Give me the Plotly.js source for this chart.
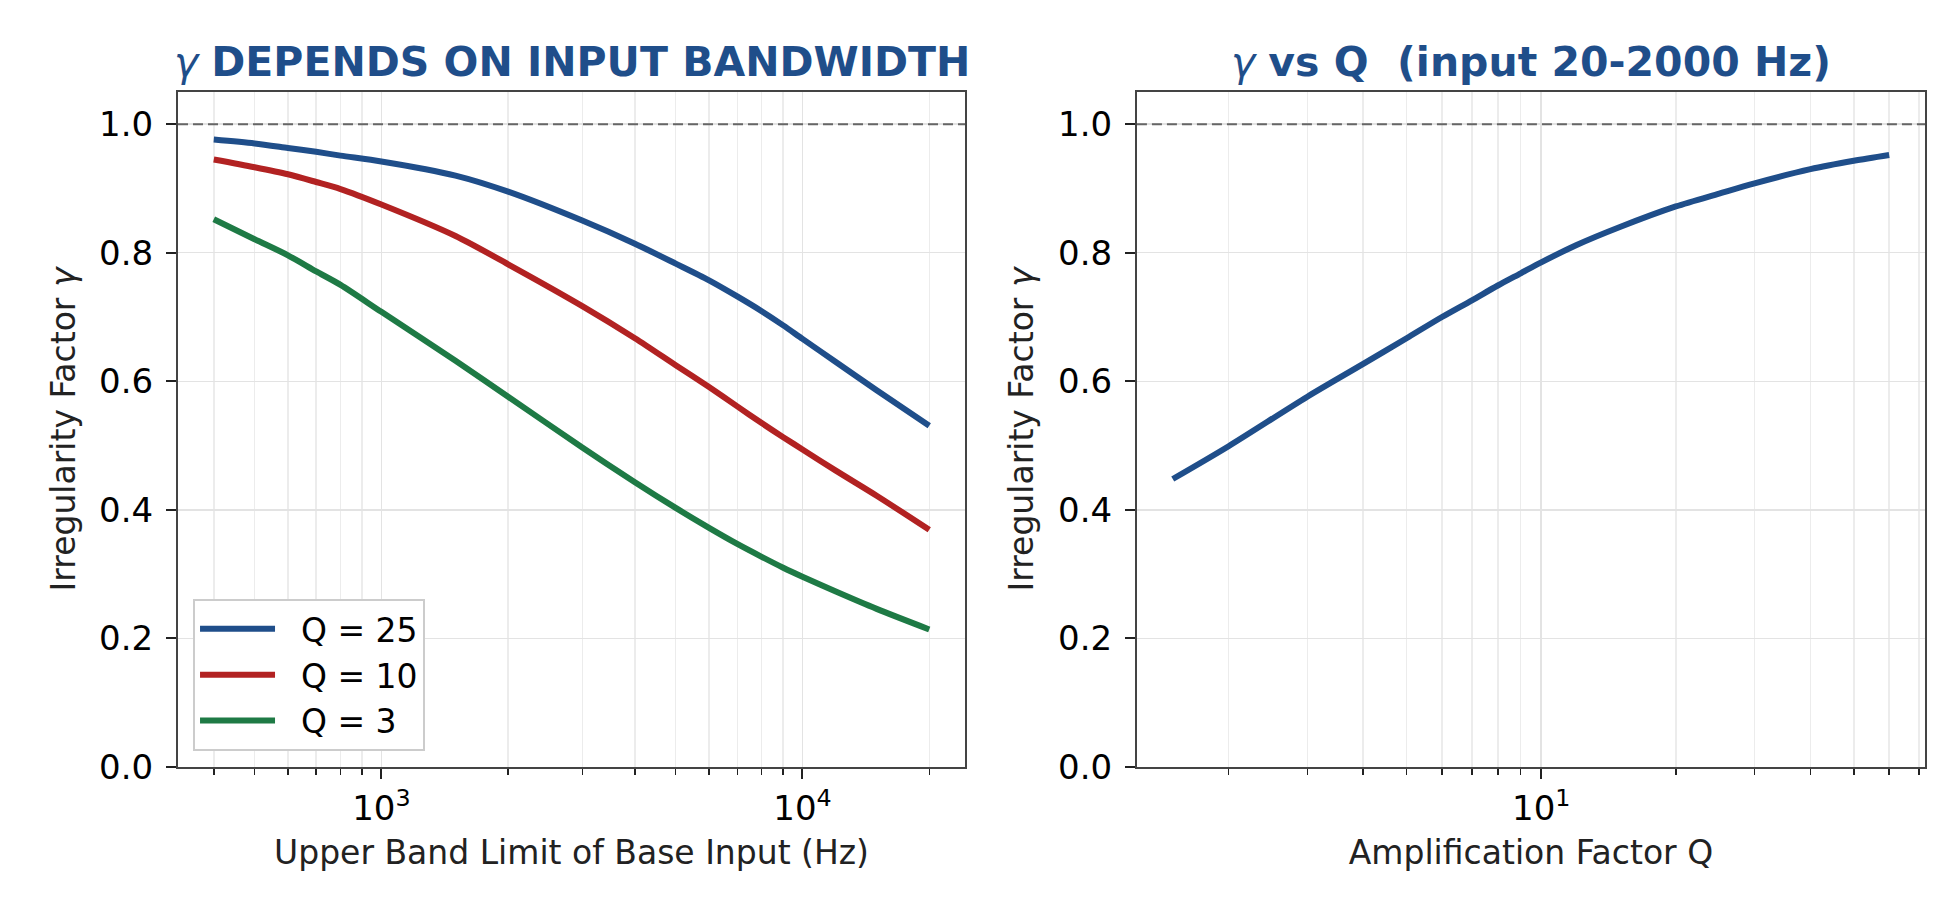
<!DOCTYPE html>
<html>
<head>
<meta charset="utf-8">
<script src="https://cdn.plot.ly/plotly-3.0.1.min.js"></script>
<style>
  html, body { margin: 0; padding: 0; background: #ffffff; }
  #chart { width: 1960px; height: 919px; }
</style>
</head>
<body>
<div id="chart"></div>
<script>
// left panel: gamma vs upper band limit, one curve per Q
const freqHz = [400, 500, 600, 700, 800, 1000, 1500, 2000, 3000, 4000, 5000, 6000, 7000, 8000, 9000, 10000, 12000, 15000, 20000];
const gammaQ25 = [0.976, 0.970, 0.963, 0.957, 0.951, 0.942, 0.920, 0.895, 0.850, 0.814, 0.783, 0.757, 0.732, 0.709, 0.687, 0.666, 0.630, 0.586, 0.531];
const gammaQ10 = [0.945, 0.933, 0.922, 0.910, 0.899, 0.875, 0.826, 0.782, 0.717, 0.667, 0.625, 0.591, 0.561, 0.535, 0.513, 0.494, 0.461, 0.422, 0.369];
const gammaQ3 = [0.852, 0.821, 0.796, 0.771, 0.750, 0.708, 0.632, 0.576, 0.497, 0.443, 0.403, 0.372, 0.347, 0.327, 0.310, 0.296, 0.273, 0.246, 0.214];
const seriesNames = ['Q = 25', 'Q = 10', 'Q = 3'];

// right panel: gamma vs Q for input 20-2000 Hz
const qValues = [1.5, 2, 3, 4, 5, 6, 7, 8, 9, 10, 12, 15, 20, 25, 30, 40, 50, 60];
const gammaVsQ = [0.448, 0.499, 0.576, 0.627, 0.667, 0.700, 0.726, 0.749, 0.768, 0.785, 0.812, 0.840, 0.872, 0.892, 0.908, 0.930, 0.943, 0.952];

// tick labels
const leftMajorTicks = [1000, 10000];
const leftMajorLabels = ['10<sup>3</sup>', '10<sup>4</sup>'];
const leftMinorTicks = [400, 500, 600, 700, 800, 900, 2000, 3000, 4000, 5000, 6000, 7000, 8000, 9000, 20000];
const rightMajorTicks = [10];
const rightMajorLabels = ['10<sup>1</sup>'];
const rightMinorTicks = [2, 3, 4, 5, 6, 7, 8, 9, 20, 30, 40, 50, 60, 70];

const colors = ['#1f4e8a', '#b22222', '#1e7a45'];
const titleBlue = '#1f4e8a';
const font = 'DejaVu Sans';

// matplotlib style 5% margins, in log space
function logRange(arr) {
  const lo = Math.log10(Math.min(...arr));
  const hi = Math.log10(Math.max(...arr));
  const pad = (hi - lo) * 0.05;
  return [lo - pad, hi + pad];
}

const leftSeries = [gammaQ25, gammaQ10, gammaQ3];
const traces = leftSeries.map(function (ys, i) {
  return {
    x: freqHz,
    y: ys,
    // small gap between legend line and label
    name: '\u00a0\u00a0' + seriesNames[i],
    type: 'scatter',
    mode: 'lines',
    line: { color: colors[i], width: 6, shape: 'spline', smoothing: 0.8 },
    xaxis: 'x',
    yaxis: 'y'
  };
});

traces.push({
  x: qValues,
  y: gammaVsQ,
  type: 'scatter',
  mode: 'lines',
  showlegend: false,
  line: { color: colors[0], width: 6, shape: 'spline', smoothing: 0.8 },
  xaxis: 'x2',
  yaxis: 'y2'
});

function xAxis(domain, range, tickvals, ticktext, minorvals, titleText, anchor) {
  return {
    domain: domain,
    anchor: anchor,
    type: 'log',
    range: range,
    tickmode: 'array',
    tickvals: tickvals,
    ticktext: ticktext,
    ticks: 'outside',
    ticklen: 10,
    tickwidth: 2,
    tickcolor: '#222',
    tickfont: { family: font, size: 34, color: '#000' },
    showgrid: true,
    gridcolor: '#e3e3e3',
    gridwidth: 1.5,
    minor: {
      tickmode: 'array',
      tickvals: minorvals,
      ticks: 'outside',
      ticklen: 6,
      tickwidth: 1.5,
      tickcolor: '#222',
      showgrid: true,
      gridcolor: '#ececec',
      gridwidth: 1.5
    },
    showline: true,
    linecolor: '#444',
    linewidth: 2,
    mirror: true,
    zeroline: false,
    title: { text: titleText, font: { family: font, size: 33, color: '#222' }, standoff: 14 }
  };
}

function yAxis(anchor) {
  return {
    domain: [0, 1],
    anchor: anchor,
    range: [0, 1.05],
    dtick: 0.2,
    tick0: 0,
    tickformat: '.1f',
    ticks: 'outside',
    ticklen: 10,
    tickwidth: 2,
    tickcolor: '#222',
    ticklabelstandoff: 6,
    tickfont: { family: font, size: 34, color: '#000' },
    showgrid: true,
    gridcolor: '#e3e3e3',
    gridwidth: 1.5,
    showline: true,
    linecolor: '#444',
    linewidth: 2,
    mirror: true,
    zeroline: false,
    title: { text: 'Irregularity Factor <i>γ</i>', font: { family: font, size: 33, color: '#222' }, standoff: 14 }
  };
}

const layout = {
  width: 1960,
  height: 919,
  margin: { l: 178, r: 35, t: 92, b: 152 },
  paper_bgcolor: '#ffffff',
  plot_bgcolor: '#ffffff',
  font: { family: font, color: '#222' },
  xaxis: xAxis([0, 0.4505], logRange(freqHz), leftMajorTicks, leftMajorLabels, leftMinorTicks,
               'Upper Band Limit of Base Input (Hz)', 'y'),
  yaxis: yAxis('x'),
  xaxis2: xAxis([0.5489, 1], logRange(qValues), rightMajorTicks, rightMajorLabels, rightMinorTicks,
                'Amplification Factor Q', 'y2'),
  yaxis2: yAxis('x2'),
  shapes: [
    { type: 'line', xref: 'x domain', x0: 0, x1: 1, yref: 'y', y0: 1, y1: 1,
      line: { color: '#666', width: 2, dash: '10px,5px' }, layer: 'above' },
    { type: 'line', xref: 'x2 domain', x0: 0, x1: 1, yref: 'y2', y0: 1, y1: 1,
      line: { color: '#666', width: 2, dash: '10px,5px' }, layer: 'above' }
  ],
  annotations: [
    { text: '<i>γ</i> <b>DEPENDS ON INPUT BANDWIDTH</b>', xref: 'x domain', x: 0.5,
      yref: 'paper', y: 1, yanchor: 'bottom', yshift: 4, showarrow: false,
      font: { family: font, size: 41, color: titleBlue } },
    { text: '<i>γ</i> <b>vs Q\u00a0 (input 20-2000 Hz)</b>', xref: 'x2 domain', x: 0.5,
      yref: 'paper', y: 1, yanchor: 'bottom', yshift: 4, showarrow: false,
      font: { family: font, size: 41, color: titleBlue } }
  ],
  showlegend: true,
  legend: {
    x: 0.0086, y: 0.024, xanchor: 'left', yanchor: 'bottom',
    bgcolor: '#ffffff', bordercolor: '#cccccc', borderwidth: 2,
    itemwidth: 75,
    font: { family: font, size: 33, color: '#000' }
  }
};

Plotly.newPlot('chart', traces, layout, { displayModeBar: false, staticPlot: true });
</script>
</body>
</html>
